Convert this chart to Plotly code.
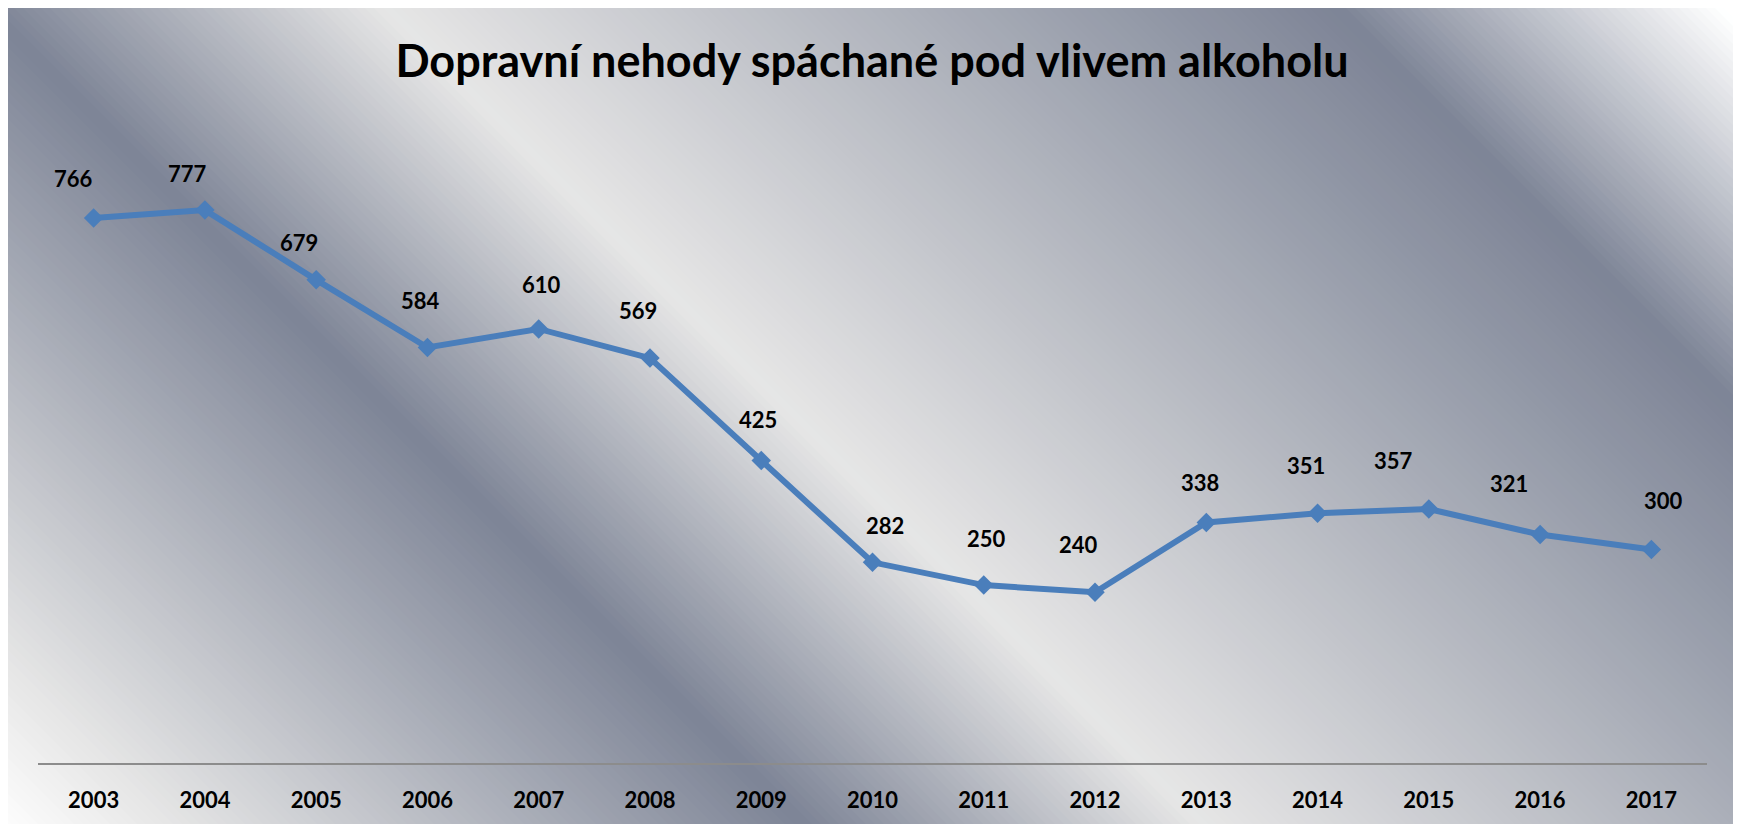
import plotly.graph_objects as go

# ---- data ----
years = ["2003", "2004", "2005", "2006", "2007", "2008", "2009", "2010",
         "2011", "2012", "2013", "2014", "2015", "2016", "2017"]
accidents = [766, 777, 679, 584, 610, 569, 425, 282, 250, 240, 338, 351, 357, 321, 300]
title_text = "Dopravní nehody spáchané pod vlivem alkoholu"

# label nudges (px) relative to each point, mimicking the original label placement
label_dx = [-20, -17, -17, -7, 3, -12, -3, 12, 3, -17, -6, -12, -35, -31, 12]
label_dy = [35, 33, 33, 43, 40, 44, 37, 33, 43, 44, 36, 44, 44, 47, 45]
LABEL_LIFT = 4

# ---- geometry ----
W, H = 1733, 816
L_M, R_M, T_M, B_M = 30, 34, 79, 61
PW = W - L_M - R_M
PH = H - T_M - B_M
Y_MAX = 950

FONT = "Lato"
BLUE = "#4a7ebb"

# ---- Excel "Silver" style diagonal gradient background ----
stops = [(0.0, (255, 255, 255)), (0.07, (230, 230, 230)), (0.32, (125, 132, 150)),
         (0.475, (230, 230, 230)), (0.85, (125, 132, 150)), (1.0, (255, 255, 255))]


def grad_color(t):
    t = min(max(t, 0.0), 1.0)
    for (t0, c0), (t1, c1) in zip(stops[:-1], stops[1:]):
        if t0 <= t <= t1:
            f = (t - t0) / (t1 - t0) if t1 > t0 else 0
            c = [round(a + (b - a) * f) for a, b in zip(c0, c1)]
            return "rgb({},{},{})".format(*c)
    return "rgb(255,255,255)"


def xp(x):
    return (x - L_M) / PW


def yp(y):
    return (H - B_M - y) / PH


S_MIN, S_MAX = -H - 20, W - 20
BAND = 9
shapes = []
s = S_MIN - 40
while s < S_MAX + 40:
    s0, s1 = s, s + BAND + 1.0
    tc = (s + BAND / 2 - S_MIN) / (S_MAX - S_MIN)
    pts = [(s0 - 20, -20), (s0 + H + 20, H + 20), (s1 + H + 20, H + 20), (s1 - 20, -20)]
    path = "M " + " L ".join(f"{xp(px):.5f},{yp(py):.5f}" for px, py in pts) + " Z"
    shapes.append(dict(type="path", xref="paper", yref="paper", path=path,
                       fillcolor=grad_color(tc), line=dict(width=0), layer="below"))
    s += BAND

fig = go.Figure()
fig.add_trace(go.Scatter(
    x=years, y=accidents, mode="lines+markers",
    line=dict(color=BLUE, width=6),
    marker=dict(symbol="diamond", size=15, color=BLUE, line=dict(width=0)),
    hoverinfo="x+y", showlegend=False))

annotations = []
for i, (v, dx, dy) in enumerate(zip(accidents, label_dx, label_dy)):
    annotations.append(dict(x=i, y=v, xref="x", yref="y", text=str(v), showarrow=False,
                            xshift=dx, yshift=dy + LABEL_LIFT, xanchor="center", yanchor="middle",
                            font=dict(family=FONT, size=22, color="black", weight="bold")))

fig.update_layout(
    width=W, height=H,
    margin=dict(l=L_M, r=R_M, t=T_M, b=B_M, pad=0),
    paper_bgcolor="white", plot_bgcolor="rgba(0,0,0,0)",
    shapes=shapes, annotations=annotations,
    title=dict(text=title_text, x=xp(864), xanchor="center", xref="paper",
               y=1 - 53 / H, yanchor="middle", yref="container",
               font=dict(family=FONT, size=45, color="black", weight="bold")),
    xaxis=dict(type="category", range=[-0.5, len(years) - 0.5], showgrid=False,
               zeroline=False, showline=True, linecolor="#8c8c8c", linewidth=2,
               ticks="", ticklabelstandoff=17,
               tickfont=dict(family=FONT, size=22, color="black", weight="bold")),
    yaxis=dict(range=[0, Y_MAX], visible=False, showgrid=False, zeroline=False),
)

fig.write_html("out.html")
